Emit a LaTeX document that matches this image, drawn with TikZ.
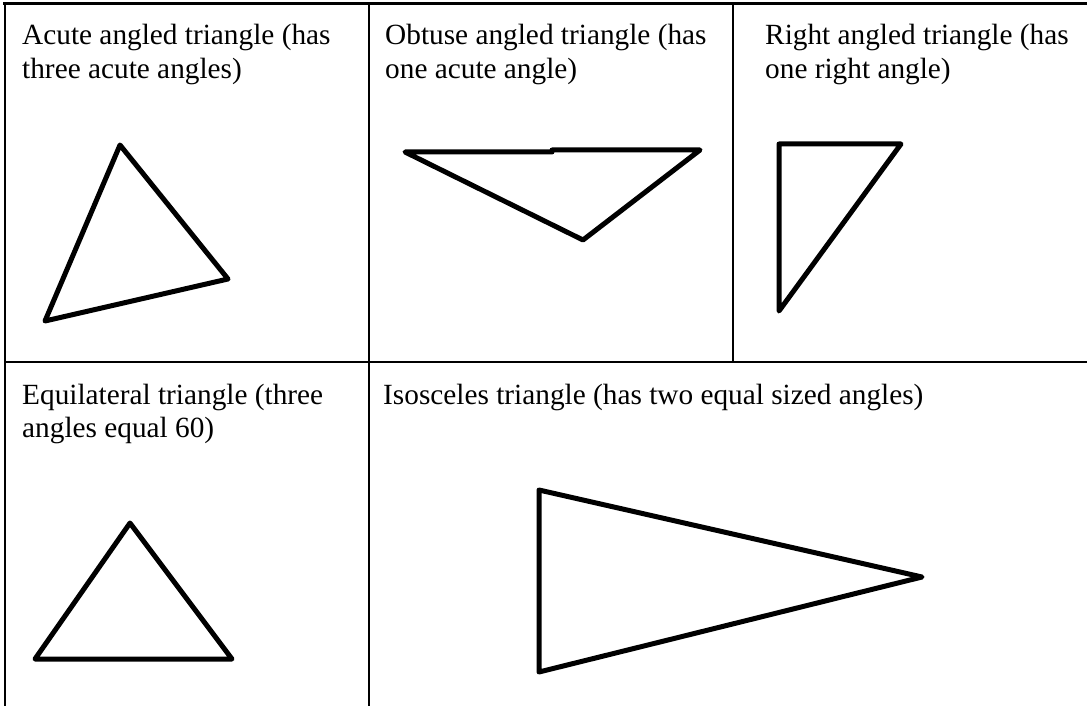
\documentclass[tikz,border=0pt]{standalone}
\usepackage{fontspec}
\setmainfont{Liberation Serif}
\tikzset{
  rejilla/.style={line width=2pt},
  triangulo/.style={line width=5pt, line join=round, line cap=round},
  rotulo/.style={anchor=base west, inner sep=0pt, align=left,
    font=\fontsize{29.3}{33.5}\selectfont}
}
\begin{document}
\begin{tikzpicture}[x=1pt, y=-1pt]
  \useasboundingbox (0,0) rectangle (1087,706);

  % Rejilla de la tabla
  \draw[line width=3pt] (3,4) -- (1087,4);
  \draw[rejilla] (4.5,4) -- (4.5,706);
  \draw[rejilla] (369,4) -- (369,706);
  \draw[rejilla] (733,4) -- (733,362);
  \draw[rejilla] (4.5,362) -- (1087,362);

  % Rotulos de las celdas (anclados a la linea base de la ultima linea)
  \node[rotulo] (agudo) at (22,78.5) {Acute angled triangle (has\\three acute angles)};
  \node[rotulo] (obtuso) at (385,78.5) {Obtuse angled triangle (has\\one acute angle)};
  \node[rotulo] (recto) at (765,78.5) {Right angled triangle (has\\one right angle)};
  \node[rotulo] (equilatero) at (22,437.5) {Equilateral triangle (three\\angles equal 60)};
  \node[rotulo] (isosceles) at (383,404) {Isosceles triangle (has two equal sized angles)};

  % Triangulo acutangulo
  \draw[triangulo] (120,145) -- (228,279) -- (45,321) -- cycle;

  % Triangulo obtusangulo
  \draw[triangulo] (405,152) -- (552,152) -- (552,150) -- (700,150) -- (583,240) -- cycle;

  % Triangulo rectangulo
  \draw[triangulo] (779,144) -- (901,144) -- (779,311) -- cycle;

  % Triangulo equilatero
  \draw[triangulo] (130,523) -- (232,659) -- (35,659) -- cycle;

  % Triangulo isosceles
  \draw[triangulo] (539,490) -- (922,577) -- (539,672) -- cycle;
\end{tikzpicture}
\end{document}
